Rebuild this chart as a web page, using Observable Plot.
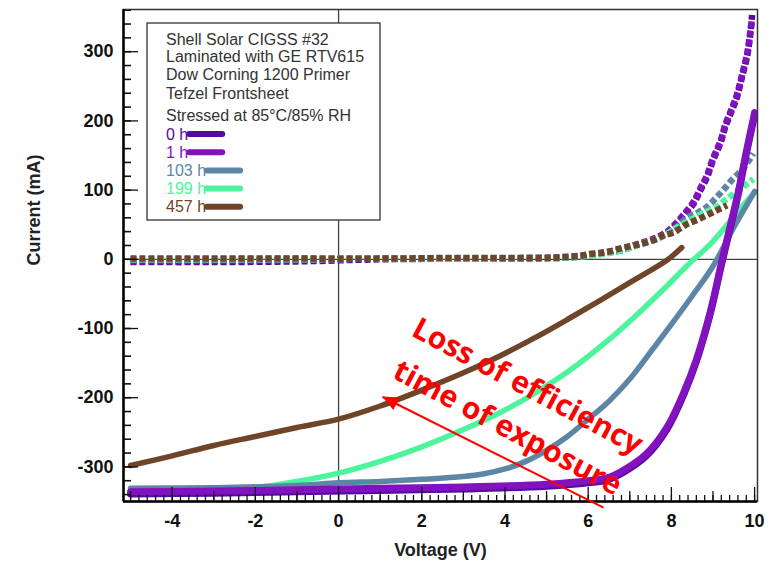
<!DOCTYPE html>
<html>
<head>
<meta charset="utf-8">
<script src="https://cdn.jsdelivr.net/npm/d3@7"></script>
<script src="https://cdn.jsdelivr.net/npm/@observablehq/plot@0.6"></script>
<style>
  html, body { margin: 0; padding: 0; background: #fff; }
</style>
</head>
<body>
<div id="chart"></div>
<script>
// ---------- data ----------
const seriesNames = ["0 h", "1 h", "103 h", "199 h", "457 h"];
const seriesColors = ["#560aa0", "#8212c0", "#5d86a6", "#4cf59b", "#6e4529"];

// illuminated I-V curves (solid)
const light0hV = [-5, -3, -1, 1, 3, 5, 6, 6.5, 6.9, 7.4, 7.9, 8.3, 8.6, 8.85, 9.0, 9.1, 9.2, 9.35, 9.6, 9.8, 10];
const light0hI = [-339, -338, -336, -334, -332, -328, -323, -318, -306, -284, -245, -195, -148, -98, -63, -36, -9, 29, 92, 152, 208];
const light1hV = [-5, -3, -1, 1, 3, 5, 6, 6.5, 6.9, 7.4, 7.9, 8.3, 8.6, 8.85, 9.0, 9.1, 9.2, 9.35, 9.6, 9.8, 10];
const light1hI = [-336, -335, -333, -331, -329, -325, -320, -315, -303, -281, -242, -192, -145, -95, -60, -33, -6, 32, 95, 155, 212];
const light103hV = [-5, -3, -1, 0, 1, 2, 3, 3.5, 4, 4.5, 5, 5.5, 6, 6.5, 7, 7.5, 8, 8.5, 9, 9.5, 10];
const light103hI = [-331, -330, -327, -323, -321, -318, -314, -310, -303, -292, -276, -256, -231, -205, -173, -134, -94, -53, -10, 46, 98];
const light199hV = [-5, -4, -3, -2, -1, 0, 1, 2, 3, 3.9, 4.7, 5.5, 6.3, 7.1, 7.9, 8.4, 8.8, 9.0, 9.3, 9.6, 10];
const light199hI = [-333, -334, -333, -330, -321, -309, -292, -271, -246, -221, -194, -163, -126, -84, -38, -8, 14, 26, 47, 70, 96];
const light457hV = [-5, -4, -3, -2, -1, 0, 1, 2, 3, 3.9, 4.7, 5.5, 6.3, 7.1, 7.9, 8.25];
const light457hI = [-298, -284, -269, -256, -243, -231, -212, -189, -164, -139, -114, -87, -59, -30, -1, 17];

// dark I-V curves (dotted)
const dark0hV = [-5, -3, -1, 1, 3, 5, 5.3, 5.8, 6.38, 6.78, 7.18, 7.58, 7.9, 8.14, 8.34, 8.54, 8.7, 8.86, 9.0, 9.18, 9.3, 9.46, 9.58, 9.7, 9.82, 9.9, 9.94];
const dark0hI = [-4, -4, -3, 0, 1, 2, 2, 4, 9, 13, 21, 28, 38, 52, 66, 81, 100, 119, 143, 168, 192, 216, 235, 264, 293, 327, 353];
const dark1hV = [-5, -3, -1, 1, 3, 5, 5.3, 5.8, 6.38, 6.78, 7.18, 7.58, 7.9, 8.14, 8.34, 8.54, 8.7, 8.86, 9.0, 9.18, 9.3, 9.46, 9.58, 9.7, 9.82, 9.9, 9.94];
const dark1hI = [-3, -2, -1, 1, 1, 2, 3, 5, 10, 14, 22, 30, 40, 54, 68, 84, 103, 122, 146, 171, 195, 219, 239, 267, 297, 330, 348];
const dark103hV = [-5, -3, -1, 1, 3, 5, 5.3, 5.8, 6.38, 6.78, 7.18, 7.58, 7.9, 8.14, 8.38, 8.62, 8.86, 9.06, 9.26, 9.46, 9.66, 9.82, 9.97];
const dark103hI = [0, 0, 1, 1, 1, 2, 2, 4, 9, 13, 21, 28, 37, 47, 60, 67, 76, 88, 101, 115, 127, 139, 153];
const dark199hV = [-5, -3, -1, 1, 3, 5, 5.3, 5.8, 6.38, 6.78, 7.18, 7.58, 7.9, 8.14, 8.38, 8.62, 8.86, 9.1, 9.3, 9.54, 9.78, 9.97];
const dark199hI = [0, 0, 0, 1, 1, 2, 2, 4, 8, 13, 20, 28, 37, 46, 54, 62, 69, 76, 86, 96, 107, 116];
const dark457hV = [-5, -3, -1, 1, 3, 5, 5.4, 5.82, 6.06, 6.3, 6.49, 6.73, 6.94, 7.18, 7.38, 7.62, 7.82, 8.02, 8.22, 8.41, 8.62, 8.86, 9.1, 9.34];
const dark457hI = [1, 1, 1, 1, 2, 2, 3, 5, 8, 9, 11, 15, 18, 21, 24, 29, 35, 38, 45, 52, 57, 64, 71, 78];

// axis tick labels
const xTickLabels = [-4, -2, 0, 2, 4, 6, 8, 10];
const yTickLabels = [-300, -200, -100, 0, 100, 200, 300];
const xDomain = [-5.17, 10.07];
const yDomain = [-350, 361];

// annotation
const noteLines = ["Shell Solar CIGSS #32", "Laminated with GE RTV615", "Dow Corning 1200 Primer", "Tefzel Frontsheet", "Stressed at 85°C/85% RH"];
const annotationTexts = ["Loss of efficiency", "time of exposure"];
const annotationTextPos = [[4.54, -184], [4.06, -244]];
const arrowFrom = [6.37, -359];
const arrowTo = [1.06, -199];

// ---------- build tables ----------
function rows(name, V, I) { return V.map((v, i) => ({series: name, V: v, I: I[i]})); }
const lightSets = [
  rows("0 h", light0hV, light0hI),
  rows("1 h", light1hV, light1hI),
  rows("103 h", light103hV, light103hI),
  rows("199 h", light199hV, light199hI),
  rows("457 h", light457hV, light457hI)
];
const darkSets = [
  rows("0 h", dark0hV, dark0hI),
  rows("1 h", dark1hV, dark1hI),
  rows("103 h", dark103hV, dark103hI),
  rows("199 h", dark199hV, dark199hI),
  rows("457 h", dark457hV, dark457hI)
];

const W = 770, H = 576;
const mL = 123, mR = 13, mT = 9, mB = 75;
const innerW = W - mL - mR, innerH = H - mT - mB;

const xMinor = d3.range(-5, 10.001, 0.2).map(d => Math.round(d * 10) / 10);
const xOdd = [-5, -3, -1, 1, 3, 5, 7, 9];
const yMinor = d3.range(-340, 361, 20);

const marks = [];
// zero lines
marks.push(Plot.ruleY([0], {stroke: "#444", strokeWidth: 1.3}));
marks.push(Plot.ruleX([0], {stroke: "#444", strokeWidth: 1.3}));
// dotted dark curves
[0, 1, 2, 3, 4].forEach(i => {
  marks.push(Plot.line(darkSets[i], {x: "V", y: "I", stroke: "series", strokeWidth: 6.5,
    strokeDasharray: "6,3", strokeLinecap: "butt", curve: "catmull-rom"}));
});
// solid illuminated curves
[4, 3, 2, 0, 1].forEach(i => {
  marks.push(Plot.line(lightSets[i], {x: "V", y: "I", stroke: "series",
    strokeWidth: i < 2 ? 7 : 5.5, strokeLinecap: "round", curve: "catmull-rom"}));
});
// inward ticks
marks.push(Plot.ruleX(xMinor, {stroke: "#111", strokeWidth: 1.3, insetTop: innerH - 6}));
marks.push(Plot.ruleX(xOdd, {stroke: "#111", strokeWidth: 1.3, insetTop: innerH - 10}));
marks.push(Plot.ruleX(xTickLabels, {stroke: "#111", strokeWidth: 1.3, insetTop: innerH - 14}));
marks.push(Plot.ruleY(yMinor, {stroke: "#111", strokeWidth: 1.6, insetRight: innerW - 8}));
marks.push(Plot.ruleY(yTickLabels, {stroke: "#111", strokeWidth: 1.3, insetRight: innerW - 15}));
// frame
marks.push(Plot.frame({stroke: "#333", strokeWidth: 1.5}));
marks.push(Plot.ruleX([xDomain[0]], {stroke: "#000", strokeWidth: 2.5}));
marks.push(Plot.ruleY([yDomain[0]], {stroke: "#000", strokeWidth: 2.5}));
// axis titles
marks.push(Plot.text(["Voltage (V)"], {frameAnchor: "bottom", dy: 54, text: d => d,
  fontSize: 18, fontWeight: "bold", fill: "#222"}));
marks.push(Plot.text(["Current (mA)"], {frameAnchor: "left", dx: -89, dy: 10, rotate: -90, text: d => d,
  fontSize: 18, fontWeight: "bold", fill: "#222"}));
// annotation text
marks.push(Plot.text(annotationTexts.map((t, i) => ({t, V: annotationTextPos[i][0], I: annotationTextPos[i][1]})),
  {x: "V", y: "I", text: "t", rotate: 28, fill: "#ff0000", fontSize: 30, fontWeight: "bold",
   fontFamily: "Open Sans, sans-serif"}));
// arrow line
marks.push(Plot.link([{x1: arrowFrom[0], y1: arrowFrom[1], x2: arrowTo[0], y2: arrowTo[1]}],
  {x1: "x1", y1: "y1", x2: "x2", y2: "y2", stroke: "#ff0000", strokeWidth: 2}));

const plot = Plot.plot({
  width: W, height: H,
  marginLeft: mL, marginRight: mR, marginTop: mT, marginBottom: mB,
  style: {fontFamily: "Liberation Sans, Arial, sans-serif", fontSize: "18px", fontWeight: "bold", color: "#111", background: "#fff"},
  x: {domain: xDomain, ticks: xTickLabels, tickFormat: d => String(d), tickSize: 0, tickPadding: 13, label: null},
  y: {domain: yDomain, ticks: yTickLabels, tickFormat: d => String(d), tickSize: 0, tickPadding: 10, label: null},
  color: {domain: seriesNames, range: seriesColors},
  marks
});
document.getElementById("chart").appendChild(plot);

// arrow head via plot scales
const sx = plot.scale("x"), sy = plot.scale("y");
const fx = sx.apply ? (v => sx.apply(v)) : d3.scaleLinear(sx.domain, sx.range);
const fy = sy.apply ? (v => sy.apply(v)) : d3.scaleLinear(sy.domain, sy.range);
const svg = d3.select(plot);
{
  const hx = fx(arrowTo[0]), hy = fy(arrowTo[1]);
  const tx = fx(arrowFrom[0]), ty = fy(arrowFrom[1]);
  const a = Math.atan2(hy - ty, hx - tx);
  const L = 16, Wd = 7;
  const bx = hx - L * Math.cos(a), by = hy - L * Math.sin(a);
  const p1 = [bx + Wd * Math.sin(a), by - Wd * Math.cos(a)];
  const p2 = [bx - Wd * Math.sin(a), by + Wd * Math.cos(a)];
  svg.append("path").attr("d", `M${hx},${hy}L${p1}L${p2}Z`).attr("fill", "#ff0000");
}

// legend box
const g = svg.append("g").attr("font-family", "Liberation Sans, Arial, sans-serif")
  .attr("font-size", 16).attr("font-weight", "normal").attr("text-anchor", "start");
g.append("rect").attr("x", 147).attr("y", 23).attr("width", 233).attr("height", 197)
  .attr("fill", "#fff").attr("stroke", "#333").attr("stroke-width", 1.3);
const noteY = [44.5, 62, 80, 98.5, 120.5];
noteLines.forEach((t, i) => g.append("text").attr("x", 166).attr("y", noteY[i]).attr("fill", "#333").text(t));
seriesNames.forEach((s, i) => {
  const y = 139.5 + i * 18.2;
  const t = g.append("text").attr("x", 166).attr("y", y).attr("fill", seriesColors[i]).text(s);
  const w = t.node().getComputedTextLength();
  g.append("line").attr("x1", 166 + w + 1).attr("x2", 166 + w + 34).attr("y1", y - 5.5).attr("y2", y - 5.5)
    .attr("stroke", seriesColors[i]).attr("stroke-width", 6).attr("stroke-linecap", "round");
});
</script>
</body>
</html>
